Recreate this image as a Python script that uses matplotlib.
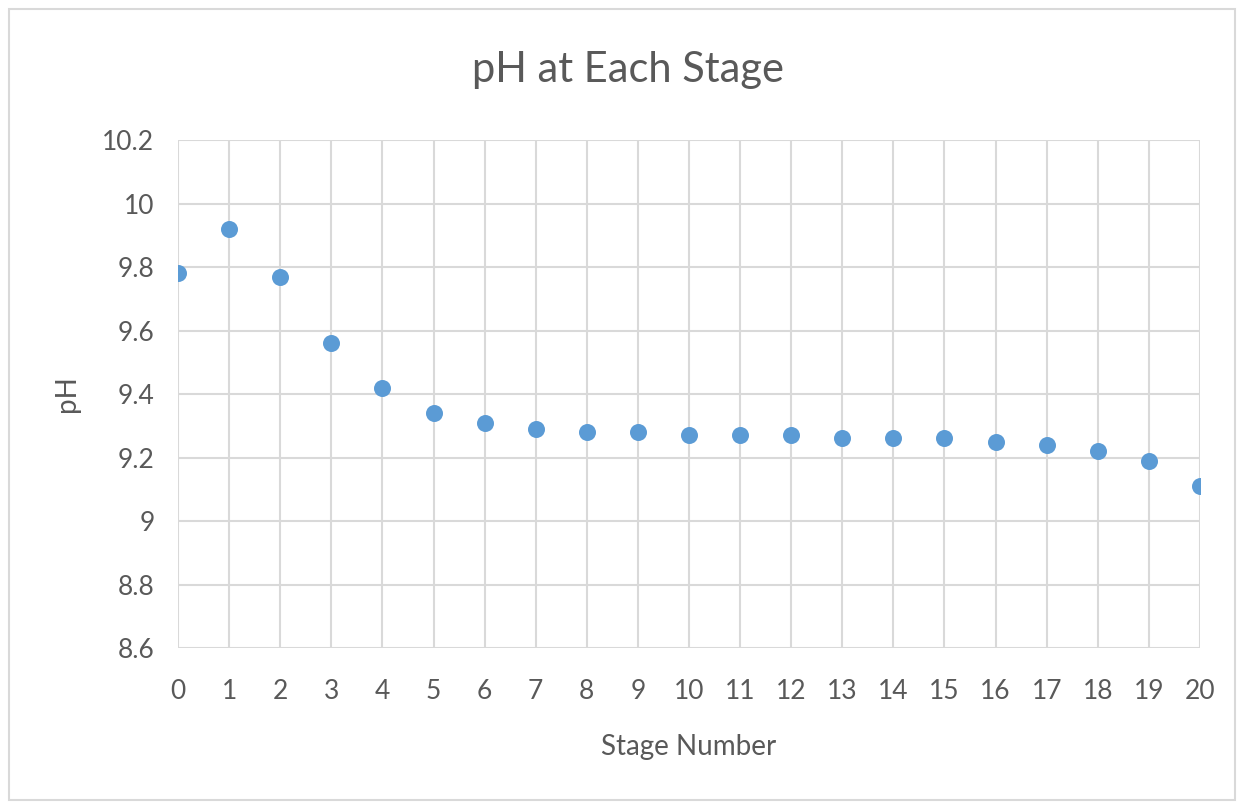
import matplotlib.pyplot as plt
from matplotlib.patches import Rectangle

# pH reading at each stage
stages = list(range(21))
ph = [9.78, 9.92, 9.77, 9.56, 9.42, 9.34, 9.31, 9.29, 9.28, 9.28, 9.27,
      9.27, 9.27, 9.26, 9.26, 9.26, 9.25, 9.24, 9.22, 9.19, 9.11]
y_ticks = [8.6, 8.8, 9, 9.2, 9.4, 9.6, 9.8, 10, 10.2]
y_labels = ['8.6', '8.8', '9', '9.2', '9.4', '9.6', '9.8', '10', '10.2']

text_col = '#595959'
plt.rcParams['font.family'] = ['Lato', 'DejaVu Sans']

fig = plt.figure(figsize=(12.44, 8.05), dpi=100)
ax = fig.add_axes([0.1431, 0.195, 0.8215, 0.631])

# light frame round the whole chart
fig.patches.append(Rectangle((0.007, 0.006), 0.986, 0.983, transform=fig.transFigure,
                             fill=False, edgecolor='#D9D9D9', linewidth=1.5))

ax.scatter(stages, ph, s=150, color='#5B9BD5', zorder=3, linewidths=0)

ax.set_xlim(0, 20)
ax.set_ylim(8.6, 10.2)
ax.set_xticks(stages)
ax.set_yticks(y_ticks)
ax.set_yticklabels(y_labels)
ax.grid(True, color='#D9D9D9', linewidth=1.5)
ax.set_axisbelow(True)
for side in ax.spines:
    ax.spines[side].set_visible(False)
ax.tick_params(length=0, labelsize=19, colors=text_col)
ax.tick_params(axis='x', pad=22)
ax.tick_params(axis='y', pad=17)

fig.text(0.505, 0.913, 'pH at Each Stage', fontsize=30, color=text_col,
         ha='center', va='center')
ax.set_xlabel('Stage Number', fontsize=20, color=text_col, labelpad=22)
ax.set_ylabel('pH', fontsize=20, color=text_col, labelpad=16)

fig.savefig('out.png', dpi=100)
